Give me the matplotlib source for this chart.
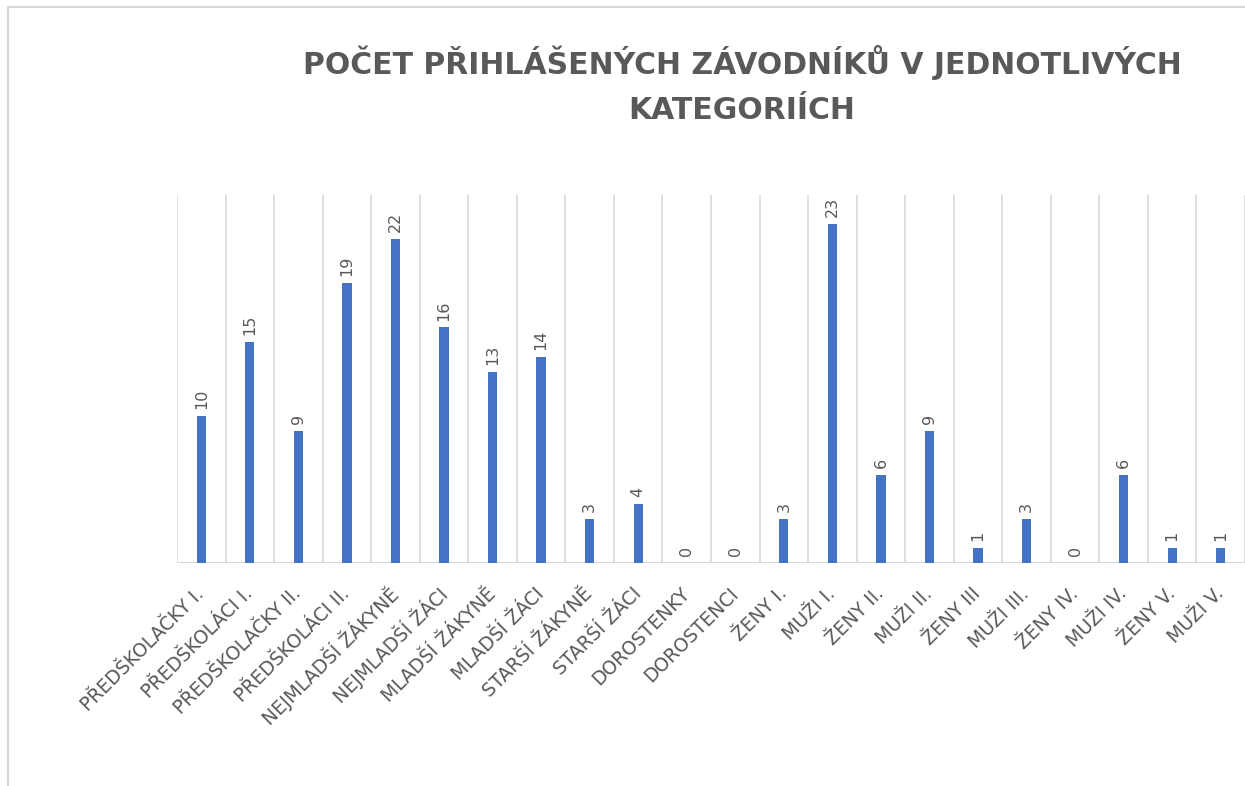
import numpy as np
import matplotlib
matplotlib.use("Agg")
import matplotlib.pyplot as plt
from matplotlib.lines import Line2D

# data
categories = [
    "PŘEDŠKOLAČKY I.", "PŘEDŠKOLÁCI I.", "PŘEDŠKOLAČKY II.", "PŘEDŠKOLÁCI II.",
    "NEJMLADŠÍ ŽÁKYNĚ", "NEJMLADŠÍ ŽÁCI", "MLADŠÍ ŽÁKYNĚ", "MLADŠÍ ŽÁCI",
    "STARŠÍ ŽÁKYNĚ", "STARŠÍ ŽÁCI", "DOROSTENKY", "DOROSTENCI",
    "ŽENY I.", "MUŽI I.", "ŽENY II.", "MUŽI II.", "ŽENY III", "MUŽI III.",
    "ŽENY IV.", "MUŽI IV.", "ŽENY V.", "MUŽI V.",
]
counts = [10, 15, 9, 19, 22, 16, 13, 14, 3, 4, 0, 0, 3, 23, 6, 9, 1, 3, 0, 6, 1, 1]
title = "POČET PŘIHLÁŠENÝCH ZÁVODNÍKŮ V JEDNOTLIVÝCH\nKATEGORIÍCH"

bar_color = "#4472C4"
text_color = "#595959"
grid_color = "#D9D9D9"

plt.rcParams["font.family"] = ["DejaVu Sans"]

fig = plt.figure(figsize=(12.45, 7.86), dpi=100)
W, H = 1245, 786
ax = fig.add_axes([177 / W, 1 - 563 / H, 1 - 177 / W, (563 - 195) / H])

x = np.arange(len(categories))
ax.bar(x, counts, width=0.19, color=bar_color, zorder=3)

# vertical gridlines between categories
ax.vlines(np.arange(-0.5, len(categories) + 0.5, 1), 0, 25, color=grid_color, lw=1.2, zorder=1)
ax.axhline(0, color=grid_color, lw=1.5, zorder=2)

for xi, v in zip(x, counts):
    ax.annotate(str(v), (xi, v), xytext=(0, 5), textcoords="offset points",
                rotation=90, ha="center", va="bottom", fontsize=11.5, color=text_color)

ax.set_xlim(-0.5, len(categories) - 0.5)
ax.set_ylim(0, 25)
ax.set_xticks(x)
ax.set_xticklabels(categories, rotation=45, ha="right", va="center",
                   rotation_mode="anchor", fontsize=13.5, color=text_color)
ax.tick_params(axis="x", length=0, pad=20)
ax.set_yticks([])
for s in ax.spines.values():
    s.set_visible(False)

fig.text(742 / W, 1 - 85 / H, title, ha="center", va="center", fontsize=21.5,
         fontweight="bold", color=text_color, linespacing=1.7)

# chart area border (cropped on right and bottom)
fig.add_artist(Line2D([8 / W, 8 / W], [0, 1 - 7 / H], color=grid_color, lw=1.5))
fig.add_artist(Line2D([8 / W, 1], [1 - 7 / H, 1 - 7 / H], color=grid_color, lw=1.5))

fig.savefig("out.png", dpi=100)
